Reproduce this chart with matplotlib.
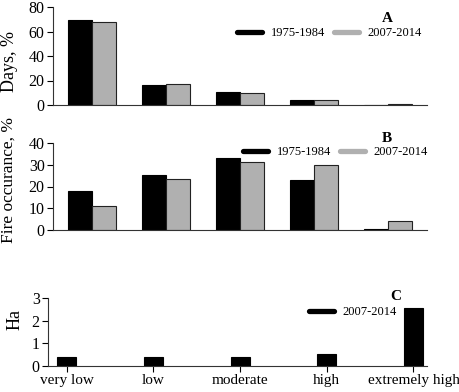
import numpy as np
import matplotlib
matplotlib.use("Agg")
import matplotlib.pyplot as plt
from matplotlib.lines import Line2D

plt.rcParams['font.family'] = ['Liberation Serif', 'DejaVu Serif']

categories = ["very low", "low", "moderate", "high", "extremely high"]
periods = ["1975-1984", "2007-2014"]

days_old = [69, 16, 11, 4, 0.3]
days_new = [68, 17, 10, 4, 0.5]

fire_old = [18, 25.5, 33, 23, 0.5]
fire_new = [11, 23.5, 31.5, 30, 3.8]

area_new = [0.38, 0.42, 0.38, 0.55, 2.58]

BLACK = "#000000"
GRAY = "#b0b0b0"
W = 460
H = 392


def fx(px):
    return px / W


def fy(py):
    return 1 - py / H


def style_axis(ax, ymax, step):
    for side in ["top", "right"]:
        ax.spines[side].set_visible(False)
    for side in ["left", "bottom"]:
        ax.spines[side].set_linewidth(0.8)
        ax.spines[side].set_color("#333333")
    ax.set_ylim(0, ymax)
    ax.set_yticks(np.arange(0, ymax + step, step))
    ax.tick_params(axis="y", length=4, width=0.8, labelsize=11.5, pad=2)


def add_legend(ax, labels, colors, anchor):
    handles = [Line2D([0], [0], color=c, lw=3.8, solid_capstyle="round") for c in colors]
    ax.legend(handles, labels, ncol=len(labels), frameon=False, fontsize=9,
              handlelength=2.0, handletextpad=0.7, columnspacing=0.7,
              borderpad=0, borderaxespad=0, loc="center left",
              bbox_to_anchor=anchor, bbox_transform=ax.figure.transFigure)


fig = plt.figure(figsize=(4.6, 3.92), dpi=100)

x = np.arange(len(categories))
bw = 0.33

# panel A
axA = fig.add_axes([fx(53), fy(105), fx(427) - fx(53), fy(7) - fy(105)])
axA.bar(x - bw / 2, days_old, bw, color=BLACK, edgecolor="black", linewidth=0.8)
axA.bar(x + bw / 2, days_new, bw, color=GRAY, edgecolor="#222222", linewidth=0.8)
style_axis(axA, 80, 20)
axA.set_xlim(-0.527, 4.527)
axA.set_xticks([])
add_legend(axA, periods, [BLACK, GRAY], (fx(237), fy(33)))
fig.text(fx(387), fy(19), "A", fontsize=11, fontweight="bold", ha="center", va="center")
fig.text(fx(10), fy(62), "Days, %", fontsize=13, rotation=90, ha="center", va="center")

# panel B
axB = fig.add_axes([fx(53), fy(229.7), fx(427) - fx(53), fy(143.3) - fy(229.7)])
axB.bar(x - bw / 2, fire_old, bw, color=BLACK, edgecolor="black", linewidth=0.8)
axB.bar(x + bw / 2, fire_new, bw, color=GRAY, edgecolor="#222222", linewidth=0.8)
style_axis(axB, 40, 10)
axB.set_xlim(-0.527, 4.527)
axB.set_xticks([])
add_legend(axB, periods, [BLACK, GRAY], (fx(243), fy(152)))
fig.text(fx(387), fy(139), "B", fontsize=11, fontweight="bold", ha="center", va="center")
fig.text(fx(9), fy(180), "Fire occurance, %", fontsize=12.5, rotation=90, ha="center", va="center")

# panel C
axC = fig.add_axes([fx(48), fy(366), fx(427) - fx(48), fy(298.3) - fy(366)])
axC.bar(x, area_new, 0.22, color=BLACK, edgecolor="black", linewidth=0.8)
style_axis(axC, 3, 1)
axC.set_xlim(-0.216, 4.156)
axC.set_xticks(x)
axC.set_xticklabels(categories)
axC.tick_params(axis="x", length=4, width=0.8, labelsize=11, pad=2)
add_legend(axC, periods[1:], [BLACK], (fx(309), fy(312)))
fig.text(fx(396), fy(297), "C", fontsize=11, fontweight="bold", ha="center", va="center")
fig.text(fx(15), fy(320), "Ha", fontsize=13, rotation=90, ha="center", va="center")

fig.savefig("out.png", dpi=100)
